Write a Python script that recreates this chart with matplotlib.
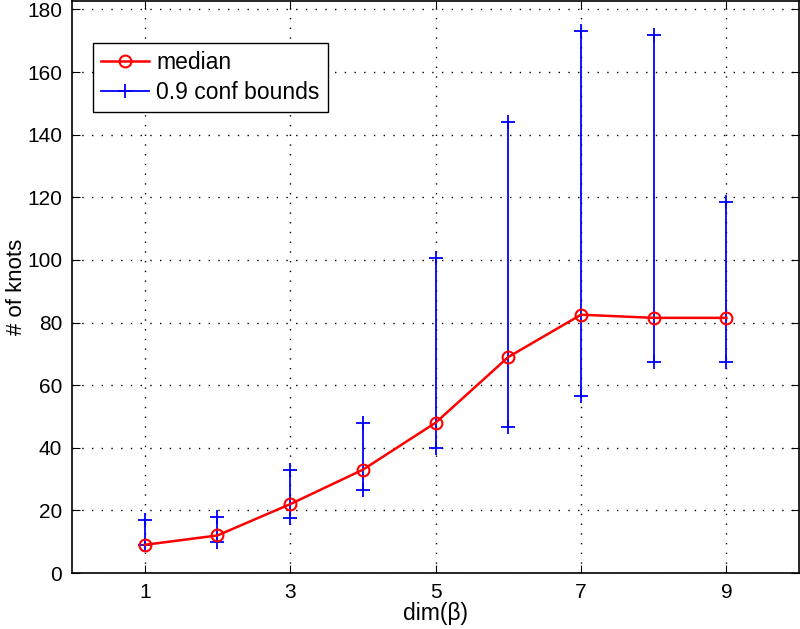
import matplotlib
matplotlib.use("Agg")
import matplotlib.pyplot as plt

plt.rcParams["font.family"] = ["Liberation Sans", "DejaVu Sans"]

dims = [1, 2, 3, 4, 5, 6, 7, 8, 9]
median = [9, 12, 22, 33, 48, 69, 82.5, 81.5, 81.5]
lower = [9, 10, 17.5, 26.5, 40, 46.5, 56.5, 67.5, 67.5]
upper = [17, 18, 33, 48, 100.5, 144, 173, 172, 118.5]

fig = plt.figure(figsize=(8, 6.29), dpi=100)
ax = fig.add_axes([0.09, 0.089, 0.909, 0.9094])

for i, (x, lo, hi) in enumerate(zip(dims, lower, upper)):
    ax.plot([x, x], [lo, hi], color="#0000ff", lw=1.3, marker="+", ms=10, mew=1.3,
            label="0.9 conf bounds" if i == 0 else None, zorder=2)

ax.plot(dims, median, color="#ff0000", lw=1.8, marker="o", ms=8.5, mfc="none",
        mew=1.5, label="median", zorder=3)

ax.set_xlim(0, 10)
ax.set_ylim(0, 182.7)
ax.set_xticks([1, 3, 5, 7, 9])
ax.set_yticks(range(0, 181, 20))
ax.grid(True, color="black", linestyle=(0, (1, 6)), linewidth=1.0)
ax.tick_params(direction="in", top=True, right=True, length=6, labelsize=15, pad=7)
for s in ax.spines.values():
    s.set_linewidth(1.2)

ax.set_xlabel("dim(β)", fontsize=16.5, labelpad=0)
ax.set_ylabel("# of knots", fontsize=16, labelpad=0)

handles, labels = ax.get_legend_handles_labels()
order = [labels.index("median"), labels.index("0.9 conf bounds")]
leg = ax.legend([handles[k] for k in order], [labels[k] for k in order],
                loc="upper left", bbox_to_anchor=(0.029, 0.927), fontsize=16.5,
                fancybox=False, framealpha=1, edgecolor="black", handlelength=2.1,
                borderpad=0.35, labelspacing=0.3, handletextpad=0.3, borderaxespad=0)
leg.get_frame().set_linewidth(1.0)

fig.savefig("out.png", dpi=100)
